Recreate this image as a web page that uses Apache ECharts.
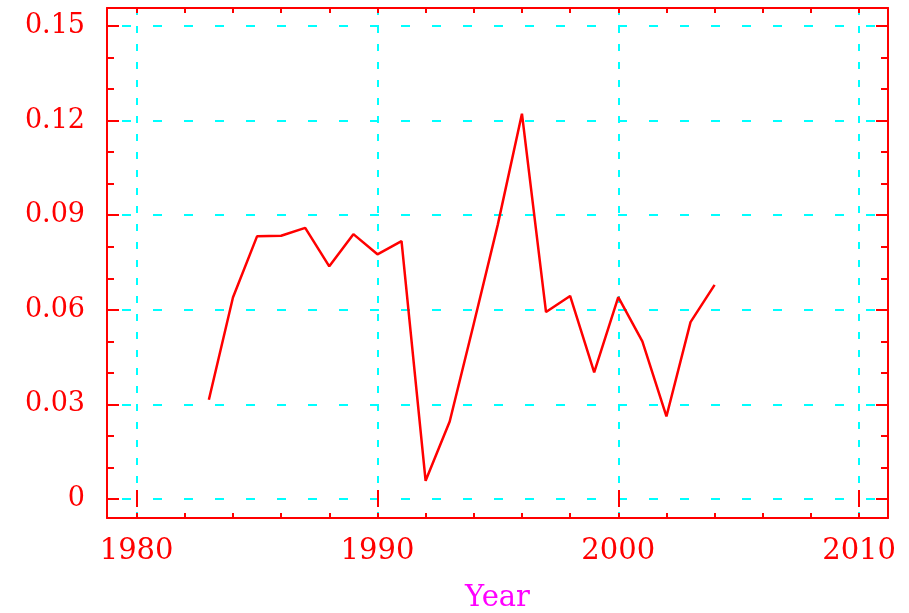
<!DOCTYPE html>
<html>
<head>
<meta charset="utf-8">
<script src="https://cdn.jsdelivr.net/npm/echarts@6/dist/echarts.min.js"></script>
<style>
  html, body { margin: 0; padding: 0; background: #fff; }
  #chart { width: 909px; height: 613px; }
</style>
</head>
<body>
<div id="chart"></div>
<script>
// -------------------- data --------------------
const years = [1983, 1984, 1985, 1986, 1987, 1988, 1989, 1990, 1991, 1992, 1993,
  1994, 1995, 1996, 1997, 1998, 1999, 2000, 2001, 2002, 2003, 2004]
const values = [0.0315, 0.0639, 0.0833, 0.0835, 0.0860, 0.0738, 0.0840, 0.0776, 0.0818, 0.0058, 0.0246,
  0.0556, 0.0871, 0.1222, 0.0593, 0.0644, 0.0402, 0.0640, 0.0500, 0.0262, 0.0561, 0.0679]

const xLabels = [1980, 1990, 2000, 2010]
const xMinorTicks = [1980, 1982, 1984, 1986, 1988, 1990, 1992, 1994, 1996, 1998, 2000, 2002, 2004, 2006, 2008, 2010]
const yLabels = [0, 0.03, 0.06, 0.09, 0.12, 0.15]
const yMinorTicks = [0, 0.01, 0.02, 0.03, 0.04, 0.05, 0.06, 0.07, 0.08, 0.09, 0.1, 0.11, 0.12, 0.13, 0.14, 0.15]

const X_MIN = 1978.77
const X_MAX = 2011.2
const Y_MIN = -0.006
const Y_MAX = 0.1557

const RED = '#ff0000'
const CYAN = '#00ffff'
const FONT = 'DejaVu Serif'

// -------------------- axes helpers --------------------
function xAxisOf(position, opts) {
  return Object.assign({
    type: 'value', gridIndex: 0, position: position,
    min: X_MIN, max: X_MAX,
    axisLine: { show: false },
    axisTick: { show: false },
    axisLabel: { show: false },
    splitLine: { show: false }
  }, opts)
}

function yAxisOf(position, opts) {
  return Object.assign({
    type: 'value', gridIndex: 0, position: position,
    min: Y_MIN, max: Y_MAX,
    axisLine: { show: false },
    axisTick: { show: false },
    axisLabel: { show: false },
    splitLine: { show: false }
  }, opts)
}

const chart = echarts.init(document.getElementById('chart'))

chart.setOption({
  animation: false,
  backgroundColor: '#fff',
  grid: { left: 107, right: 21, top: 8, bottom: 95, containLabel: false, outerBoundsMode: 'none' },
  xAxis: [
    // bottom: line, minor ticks, labels, title
    xAxisOf('bottom', {
      axisLine: { show: true, onZero: false, lineStyle: { color: RED, width: 2 } },
      axisTick: { show: true, inside: true, length: 5, customValues: xMinorTicks, lineStyle: { color: RED, width: 2 } },
      axisLabel: {
        show: true, customValues: xLabels, margin: 19,
        color: RED, fontFamily: FONT, fontSize: 29,
        formatter: v => String(Math.round(v))
      },
      name: 'Year', nameLocation: 'middle', nameGap: 66,
      nameTextStyle: { color: '#ff00ff', fontFamily: FONT, fontSize: 29 }
    }),
    // bottom: major ticks + vertical grid
    xAxisOf('bottom', {
      axisTick: { show: true, inside: true, length: 9, customValues: xLabels, lineStyle: { color: RED, width: 2 } },
      splitLine: { show: true, lineStyle: { color: CYAN, width: 2, type: [7, 11] } }
    }),
    // top frame
    xAxisOf('top', {
      axisLine: { show: true, onZero: false, lineStyle: { color: RED, width: 2 } },
      axisTick: { show: true, inside: true, length: 5, customValues: xMinorTicks, lineStyle: { color: RED, width: 2 } }
    }),
    xAxisOf('top', {
      axisTick: { show: true, inside: true, length: 8, customValues: xLabels, lineStyle: { color: RED, width: 2 } }
    })
  ],
  yAxis: [
    // left: line, minor ticks, labels
    yAxisOf('left', {
      axisLine: { show: true, onZero: false, lineStyle: { color: RED, width: 2 } },
      axisTick: { show: true, inside: true, length: 7, customValues: yMinorTicks, lineStyle: { color: RED, width: 2 } },
      axisLabel: {
        show: true, customValues: yLabels, margin: 22,
        color: RED, fontFamily: FONT, fontSize: 27,
        formatter: v => String(+v.toFixed(2))
      }
    }),
    // left: major ticks + horizontal grid
    yAxisOf('left', {
      axisTick: { show: true, inside: true, length: 12, customValues: yLabels, lineStyle: { color: RED, width: 2 } },
      splitLine: { show: true, lineStyle: { color: CYAN, width: 2, type: [9, 22], dashOffset: 16 } }
    }),
    // right frame
    yAxisOf('right', {
      axisLine: { show: true, onZero: false, lineStyle: { color: RED, width: 2 } },
      axisTick: { show: true, inside: true, length: 7, customValues: yMinorTicks, lineStyle: { color: RED, width: 2 } }
    }),
    yAxisOf('right', {
      axisTick: { show: true, inside: true, length: 12, customValues: yLabels, lineStyle: { color: RED, width: 2 } }
    })
  ],
  series: [
    {
      type: 'line',
      xAxisIndex: 0,
      yAxisIndex: 0,
      data: years.map((y, i) => [y, values[i]]),
      symbol: 'none',
      lineStyle: { color: RED, width: 2.5 },
      z: 5
    }
  ]
})
</script>
</body>
</html>
